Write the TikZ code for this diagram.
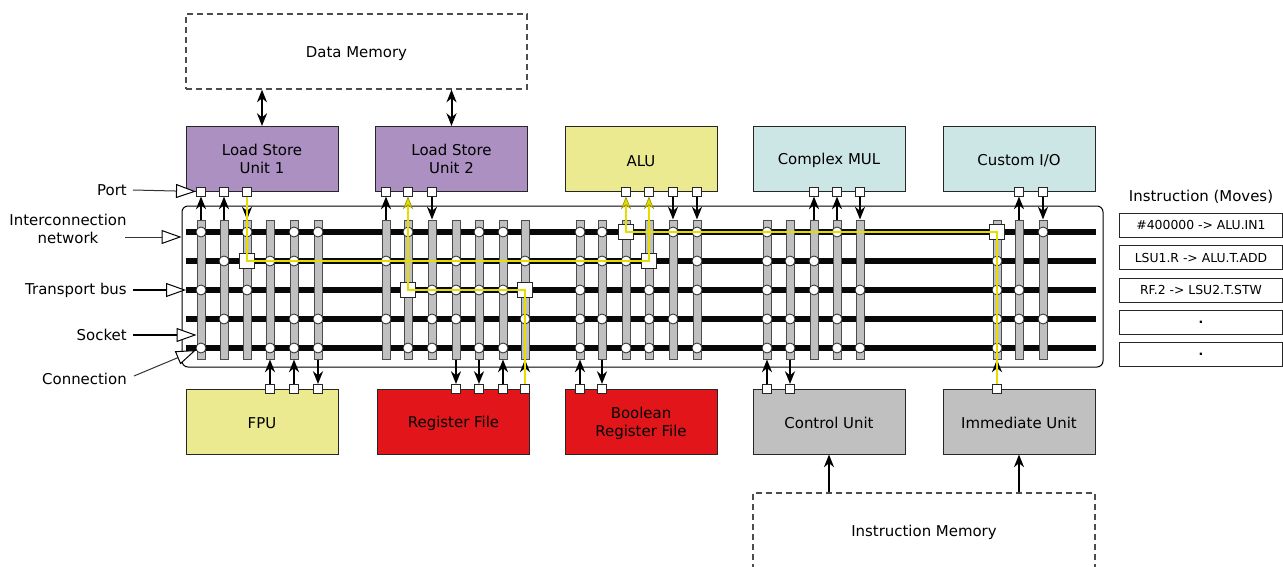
\documentclass[tikz,border=0pt]{standalone}
\usepackage{fontspec}
\setmainfont{DejaVu Sans}
\usetikzlibrary{arrows.meta,calc}
\definecolor{lsu}{RGB}{171,144,193}
\definecolor{aluc}{RGB}{236,234,145}
\definecolor{mulc}{RGB}{204,230,230}
\definecolor{rfc}{RGB}{226,22,26}
\definecolor{cuc}{RGB}{192,192,192}
\definecolor{sockgray}{RGB}{192,192,192}
\definecolor{ylw}{RGB}{228,222,0}
\definecolor{yldark}{RGB}{150,145,0}
\definecolor{busc}{RGB}{8,8,8}
\newcommand\lowtxt[1]{\raisebox{-1.3pt}[\height][\depth]{#1}}
\newcommand\lowtwo[2]{\raisebox{-1.8pt}[\height][\depth]{\begin{tabular}{@{}c@{}}#1\\[0.6pt]#2\end{tabular}}}
\begin{document}
\begin{tikzpicture}[x=0.75pt,y=-0.75pt,
  font=\fontsize{11.2}{13}\selectfont,
  unit/.style={draw=black!85, line width=0.75pt, minimum width=114pt, minimum height=48.75pt, align=center, inner sep=0pt},
  mem/.style={draw=black!70, dash pattern=on 4.5pt off 3pt, line width=0.9pt, minimum height=56.25pt, inner sep=0pt},
  port/.style={draw=black!85, fill=white, line width=0.75pt, minimum size=6.75pt, inner sep=0pt},
  sock/.style={draw=black!70, fill=sockgray, line width=0.75pt, minimum width=6pt, minimum height=104.25pt, inner sep=0pt},
  conn/.style={circle, draw=black!85, fill=white, line width=0.6pt, minimum size=7.5pt, inner sep=0pt},
  sq/.style={draw=black!85, fill=white, line width=0.75pt, minimum size=11.25pt, inner sep=0pt},
  bus/.style={line width=4.9pt, draw=busc},
  arr/.style={line width=1.5pt, -{Stealth[length=9.5pt,width=7.5pt,inset=3pt]}},
  darr/.style={line width=1.5pt, {Stealth[length=9.5pt,width=7.5pt,inset=3pt]}-{Stealth[length=9.5pt,width=7.5pt,inset=3pt]}},
  ypath/.style={draw=ylw, line width=1.1pt, line join=miter, -{Stealth[length=9.5pt,width=7.5pt,inset=3pt,fill=ylw,color=yldark,line width=0.5pt]}},
  lbl/.style={inner xsep=4.5pt, inner ysep=0pt, anchor=east},
  tri/.style={line width=0.75pt, draw=black!80, -{Triangle[length=15pt,width=10.5pt,fill=white,color=black,line width=0.75pt]}},
  trithick/.style={line width=1.5pt, -{Triangle[length=15pt,width=10.5pt,fill=white,color=black,line width=0.75pt]}},
  ibox/.style={draw=black!85, line width=0.75pt, minimum width=122.25pt, minimum height=18pt, inner sep=0pt, font=\fontsize{9.3}{11}\selectfont},
]
\useasboundingbox (0,0) rectangle (1283,567);
\fill[white] (0,0) rectangle (1283,567);

% memories
\node[mem, minimum width=255.75pt] (dm) at (356.5,51.5) {\lowtxt{Data Memory}};
\node[mem, minimum width=256.5pt] (im) at (924,530.5) {\lowtxt{Instruction Memory}};

% units
\node[unit, fill=lsu] (lsu1) at (262,159) {\lowtwo{Load Store}{Unit 1}};
\node[unit, fill=lsu] (lsu2) at (451.5,159) {\lowtwo{Load Store}{Unit 2}};
\node[unit, fill=aluc] (alu) at (641,159) {\lowtxt{ALU}};
\node[unit, fill=mulc] (cmul) at (829,159) {\lowtxt{Complex MUL}};
\node[unit, fill=mulc] (cio) at (1019,159) {\lowtxt{Custom I/O}};
\node[unit, fill=aluc] (fpu) at (262,421.5) {\lowtxt{FPU}};
\node[unit, fill=rfc] (rf) at (453.5,421.5) {\lowtxt{Register File}};
\node[unit, fill=rfc] (brf) at (641,421.5) {\lowtwo{Boolean}{Register File}};
\node[unit, fill=cuc] (cu) at (829,421.5) {\lowtxt{Control Unit}};
\node[unit, fill=cuc] (imm) at (1019,421.5) {\lowtxt{Immediate Unit}};

% memory connections
\draw[darr] (dm.south -| lsu1.north) -- (lsu1.north);
\draw[darr] (dm.south -| lsu2.north) -- (lsu2.north);
\draw[arr] (im.north -| cu.south) -- (cu.south);
\draw[arr] (im.north -| imm.south) -- (imm.south);

% interconnection network
\node[draw=black, line width=0.75pt, rounded corners=4.5pt, fill=white,
      minimum width=690.75pt, minimum height=120.75pt, inner sep=0pt] (net) at (642.5,286.5) {};
\foreach \b in {1,...,5} {
  \pgfmathsetmacro{\by}{203+29*\b}
  \coordinate (b\b w) at (186,\by);
  \coordinate (b\b e) at (1096,\by);
  \draw[bus] (b\b w) -- (b\b e);
}

% sockets with connections
\foreach \x/\cs in {201/{1,3,5},224/{2,4},247/{1,3},270/{2,5},294/{1,2,4,5},318/{1,4,5},
  386/{2,4},408/{1,5},432/{3,4,5},456/{2,3,4},479/{1,3,5},503/{1,3,5},525/{2,4},
  580/{1,2,3,4,5},602/{1,2,4},626/{2,5},649/{3,4,5},673/{1,4},697/{1,2,3,5},
  767/{1,2,3,4,5},790/{2,4,5},814/{2,3},837/{1,4,5},860/{3,5},
  997/{2,3,4,5},1019/{3,4},1043/{1,4}} {
  \node[sock] (s\x) at (\x,289.5) {};
  \foreach \b in \cs {
    \pgfmathsetmacro{\by}{203+29*\b}
    \node[conn] (c\x-\b) at (\x,\by) {};
  }
}

% ports
\foreach \x in {201,224,247,386,408,432,626,649,673,697,814,837,860,1019,1043}
  \node[port] (pt\x) at (\x,191.5) {};
\foreach \x in {270,294,318,456,479,503,525,580,602,767,790,997}
  \node[port] (pb\x) at (\x,389) {};

% socket-port arrows
\foreach \x in {201,224,386,814,837,1019}
  \draw[arr] (s\x.north) -- (pt\x.south);
\foreach \x in {247,432,673,697,860,1043}
  \draw[arr] (pt\x.south) -- (s\x.north);
\foreach \x in {270,294,503,525,580,767,997}
  \draw[arr] (pb\x.north) -- (s\x.south);
\foreach \x in {318,456,479,602,790}
  \draw[arr] (s\x.south) -- (pb\x.north);

% active move squares
\node[sq] (q247) at (247,261) {};
\node[sq] (q649) at (649,261) {};
\node[sq] (q408) at (408,290) {};
\node[sq] (q525) at (525,290) {};
\node[sq] (q626) at (626,232) {};
\node[sq] (q997) at (997,232) {};

% moves (yellow)
\draw[ypath] (pt247.south) -- (q247.center) -- (q649.center) -- (pt649.south);
\draw[ypath] (pb525.north) -- (q525.center) -- (q408.center) -- (pt408.south);
\draw[ypath] (pb997.north) -- (q997.center) -- (q626.center) -- (pt626.south);

% left labels
\node[lbl] (lport) at (133,190) {Port};
\draw[tri] (lport.east) -- (pt201.west);
\node[align=center, inner sep=0pt, font=\fontsize{11.2}{13.5}\selectfont] (lnet) at (68,229) {Interconnection\\network};
\coordinate (lnetc) at (125,237);
\draw[tri] (lnetc) -- (net.west |- lnetc);
\node[lbl] (lbus) at (133,290) {Transport bus};
\draw[trithick] (lbus.east) -- (b3w);
\node[lbl] (lsock) at (133,335) {Socket};
\draw[trithick] (lsock.east) -- (s201.west |- lsock.east);
\node[lbl] (lconn) at (133,379) {Connection};
\coordinate (lconnc) at (134,376);
\draw[tri] (lconnc) -- (c201-5);

% instruction
\node (ititle) at (1201,197) {Instruction (Moves)};
\node[ibox] (i1) at (1201,225) {\#400000 -> ALU.IN1};
\node[ibox] (i2) at (1201,257.5) {LSU1.R -> ALU.T.ADD};
\node[ibox] (i3) at (1201,290) {RF.2 -> LSU2.T.STW};
\node[ibox] (i4) at (1201,322) {\textbf{.}};
\node[ibox] (i5) at (1201,354.5) {\textbf{.}};
\end{tikzpicture}
\end{document}
